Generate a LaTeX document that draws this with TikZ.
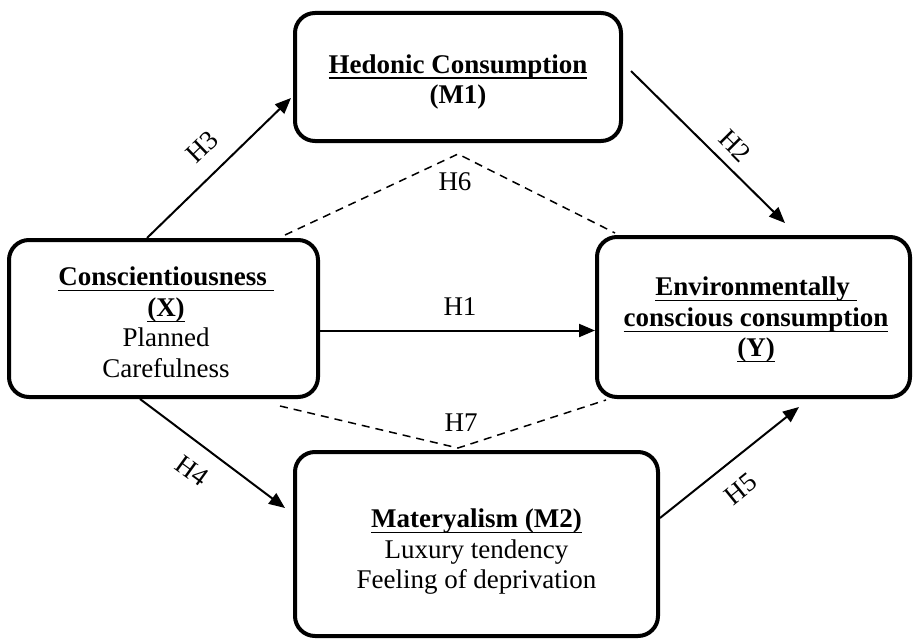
\documentclass[tikz,border=0pt]{standalone}
\usepackage{fontspec}
\setmainfont{Liberation Serif}
\usetikzlibrary{arrows.meta,calc}
\newsavebox\ulbox
\newcommand{\ulx}[1]{\sbox\ulbox{#1}\rlap{\rule[-5.5pt]{\wd\ulbox}{1.4pt}}\usebox\ulbox}
\tikzset{
  box/.style={draw, line width=4pt, rounded corners=20pt, inner sep=0pt},
  boxtext/.style={align=center, inner sep=0pt},
  arr/.style={line width=2pt, -{Triangle[length=16pt,width=13pt]}},
  dashline/.style={line width=1.5pt, dash pattern=on 8pt off 6pt},
  lbl/.style={inner sep=0pt}
}
\begin{document}
\begin{tikzpicture}[x=1pt,y=-1pt,font=\fontsize{27}{30.5}\selectfont]
\useasboundingbox (0,0) rectangle (913,642);

\node[box, minimum width=326pt, minimum height=128pt] (hed) at (458,77) {};
\node[box, minimum width=309pt, minimum height=157pt] (cons) at (163.5,318.5) {};
\node[box, minimum width=313pt, minimum height=160pt] (env) at (753.5,317) {};
\node[box, minimum width=363pt, minimum height=184pt] (mat) at (476.5,544) {};

\node[boxtext] (hedtext) at (458,82)
  {\ulx{\textbf{Hedonic Consumption}}\\\textbf{(M1)}};
\node[boxtext] (constext) at (166,322.5)
  {\ulx{\textbf{Conscientiousness\ }}\\\ulx{\textbf{(X)}}\\Planned\\Carefulness};
\node[boxtext] (envtext) at (756,320)
  {\ulx{\textbf{Environmentally\ }}\\\ulx{\textbf{conscious consumption}}\\\ulx{\textbf{(Y)}}};
\node[boxtext] (mattext) at (476.5,552)
  {\ulx{\textbf{Materyalism (M2)}}\\Luxury tendency\\Feeling of deprivation};

\coordinate (h6apex) at (458,154);
\coordinate (h7apex) at (458,448);

% solid arrows
\draw[arr] ([xshift=-16.5pt]cons.north) -- ([xshift=-2pt,yshift=-21pt]hed.west);
\draw[arr] ([xshift=8pt,yshift=6pt]hed.east) -- ([xshift=31.5pt,yshift=12pt]env.north);
\draw[arr] ([yshift=-12pt]cons.east) -- ([yshift=-12pt]cons.east -| env.west);
\draw[arr] ([xshift=-23.5pt]cons.south) -- ([xshift=-8pt,yshift=36pt]mat.west);
\draw[arr] ([yshift=26pt]mat.east) -- ([xshift=45.5pt,yshift=-8pt]env.south);

% dashed paths
\draw[dashline] ([xshift=-35pt,yshift=3pt]cons.north east) -- (h6apex) -- ([xshift=20pt,yshift=2pt]env.north west);
\draw[dashline] ([xshift=-40pt,yshift=-7pt]cons.south east) -- (h7apex) -- ([xshift=11pt,yshift=-1pt]env.south west);

% labels
\node[lbl, rotate=44] (l3) at (202,147) {H3};
\node[lbl, rotate=-45] (l2) at (735,146) {H2};
\node[lbl] (l6) at (455,182) {H6};
\node[lbl] (l1) at (460,307) {H1};
\node[lbl] (l7) at (461,423) {H7};
\node[lbl, rotate=-36] (l4) at (192,471) {H4};
\node[lbl, rotate=39] (l5) at (741,489) {H5};
\end{tikzpicture}
\end{document}
